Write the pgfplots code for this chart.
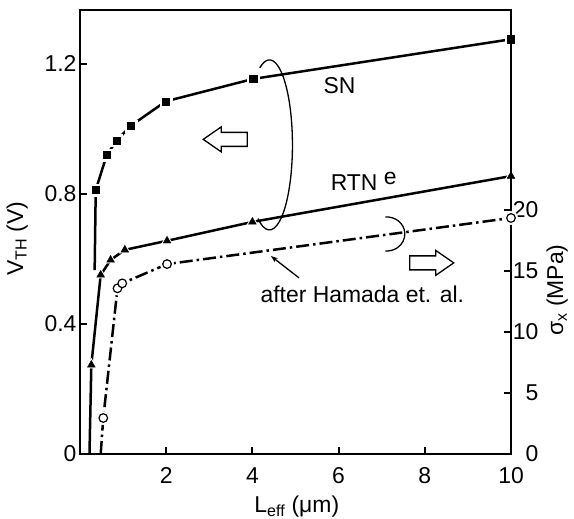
\documentclass[border=0pt]{standalone}
\usepackage{fontspec}
\setmainfont{Liberation Sans}
\usepackage{pgfplots}
\pgfplotsset{compat=1.18}
\usetikzlibrary{arrows.meta}

\pgfplotsset{
  common/.style={
    at={(0,0)}, anchor=south west,
    scale only axis, width=431bp, height=444bp,
    xmin=0, xmax=10,
    tick align=inside,
    major tick length=7bp,
    tick style={line width=2bp, black},
    axis line style={line width=2.7bp},
    clip=false,
    /pgf/number format/assume math mode=true,
    /pgf/number format/fixed,
    tick label style={font=\fontsize{23}{26}\selectfont},
    label style={font=\fontsize{23}{26}\selectfont},
  },
}

\begin{document}
\begin{tikzpicture}[font=\fontsize{23}{26}\selectfont]
% left axis: V_TH
\begin{axis}[common,
  ymin=0, ymax=1.366,
  xtick={2,4,6,8,10}, ytick={0,0.4,0.8,1.2},
  xtick pos=left, ytick pos=left,
  xticklabel style={yshift=-10bp},
  xlabel={L\textsubscript{eff} (μm)},
  ylabel={V\textsubscript{TH} (V)},
  every axis x label/.style={at={(axis description cs:0.503,-0.118)}, anchor=center},
  every axis y label/.style={at={(axis description cs:-0.146,0.485)}, anchor=center, rotate=90},
]
% SN
\addplot[line width=2.5bp, black] coordinates {
  (0.34,0.566)(0.365,0.812)(0.62,0.920)(0.85,0.964)(1.18,1.010)
  (1.99,1.085)(4.02,1.154)(10,1.276)
};
\addplot[only marks, mark=square*, mark size=6bp, white] coordinates {
  (0.365,0.812)(0.62,0.920)(0.85,0.964)(1.18,1.010)
  (1.99,1.085)(4.02,1.154)(10,1.276)
};
\addplot[only marks, mark=square*, mark size=3.6bp, black] coordinates {
  (0.365,0.812)(0.62,0.920)(0.85,0.964)(1.18,1.010)
  (1.99,1.085)(4.02,1.154)(10,1.276)
};
% RTN e
\addplot[line width=2.5bp, black] coordinates {
  (0.22,0)(0.263,0.274)(0.48,0.551)(0.71,0.597)(1.04,0.628)
  (2.02,0.656)(4.0,0.714)(10,0.855)
};
\addplot[only marks, mark=triangle*, mark size=6.5bp, white] coordinates {
  (0.263,0.274)(0.48,0.551)(0.71,0.597)(1.04,0.628)
  (2.02,0.656)(4.0,0.714)(10,0.855)
};
\addplot[only marks, mark=triangle*, mark size=4.5bp, black] coordinates {
  (0.263,0.274)(0.48,0.551)(0.71,0.597)(1.04,0.628)
  (2.02,0.656)(4.0,0.714)(10,0.855)
};

\node at (axis cs:6.02,1.134) {SN};
\node[inner sep=0pt, anchor=base] at (axis cs:6.36,0.812) {RTN};
\node[inner sep=0pt, anchor=base] at (axis cs:7.20,0.830) {e};
\node at (axis cs:6.55,0.490) {after Hamada et. al.};
\draw[line width=1.3bp, -{Stealth[length=7bp,width=5bp]}]
  (axis cs:5.08,0.542) -- (axis cs:4.43,0.609);
% brace-like arcs
\draw[line width=1.3bp] ([shift={(-9.7bp,77bp)}]axis cs:4.395,0.951)
  arc[start angle=115, end angle=-120, x radius=23bp, y radius=85bp];
\draw[line width=1.3bp] ([shift={(-1.6bp,16.9bp)}]axis cs:7.12,0.677)
  arc[start angle=95, end angle=-95, x radius=18bp, y radius=17bp];
% hollow block arrows
\draw[line width=1.3bp, fill=white] (axis cs:3.37,0.968) ++(-22bp,0)
  -- ++(18bp,12.5bp) -- ++(0,-5.5bp) -- ++(26bp,0) -- ++(0,-14bp)
  -- ++(-26bp,0) -- ++(0,-5.5bp) -- cycle;
\draw[line width=1.3bp, fill=white] (axis cs:8.16,0.588) ++(22bp,0)
  -- ++(-18bp,12.5bp) -- ++(0,-5.5bp) -- ++(-26bp,0) -- ++(0,-14bp)
  -- ++(26bp,0) -- ++(0,-5.5bp) -- cycle;
\end{axis}

% right axis: sigma_x
\begin{axis}[common,
  ymin=0, ymax=36.4,
  axis x line=none, axis y line*=right,
  ytick={0,5,10,15,20},
  yticklabel style={anchor=east, xshift=31bp},
  ylabel={σ\textsubscript{x} (MPa)},
  every axis y label/.style={at={(axis description cs:1.107,0.369)}, anchor=center, rotate=90},
]
\addplot[line width=2.5bp, black, dash pattern=on 13bp off 4bp on 2.5bp off 4bp] coordinates {
  (0.48,0)(0.54,2.95)(0.87,13.58)(0.98,13.99)(2.02,15.57)(10,19.35)
};
\addplot[only marks, mark=*, mark size=6.8bp, white] coordinates {
  (0.54,2.95)(0.87,13.58)(0.98,13.99)(2.02,15.57)(10,19.35)
};
\addplot[only marks, mark=*, mark size=4.3bp, black, line width=1.2bp,
  mark options={fill=white, solid}] coordinates {
  (0.54,2.95)(0.87,13.58)(0.98,13.99)(2.02,15.57)(10,19.35)
};
\end{axis}

\pgfresetboundingbox
\path (-80bp,-65bp) rectangle (494bp,454bp);
\end{tikzpicture}
\end{document}
